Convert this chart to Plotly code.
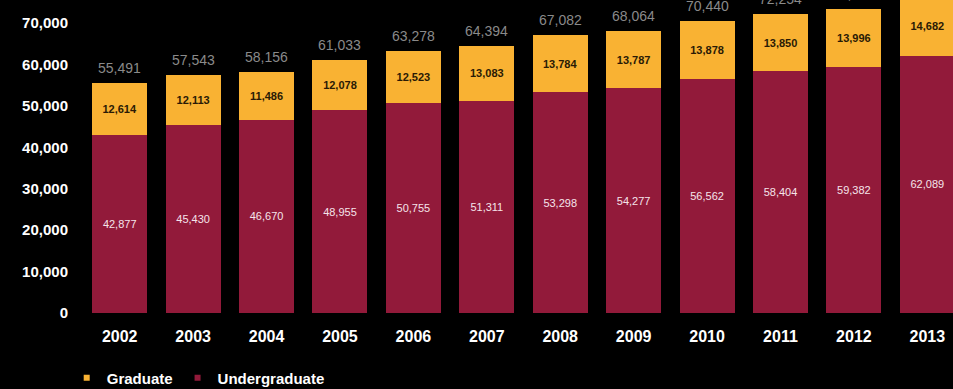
import plotly.graph_objects as go

years = ["2002", "2003", "2004", "2005", "2006", "2007", "2008", "2009", "2010", "2011", "2012", "2013"]
undergraduate = [42877, 45430, 46670, 48955, 50755, 51311, 53298, 54277, 56562, 58404, 59382, 62089]
graduate = [12614, 12113, 11486, 12078, 12523, 13083, 13784, 13787, 13878, 13850, 13996, 14682]
totals = [u + g for u, g in zip(undergraduate, graduate)]
y_ticks = [0, 10000, 20000, 30000, 40000, 50000, 60000, 70000]

GOLD = "#F9B233"
MAROON = "#921A3A"
FONT = "Liberation Sans, Arial, sans-serif"

fig = go.Figure()
fig.add_trace(go.Bar(
    x=years, y=undergraduate, name="Undergraduate", marker=dict(color=MAROON, line=dict(width=0)),
    texttemplate="%{y:,.0f}", textposition="inside", insidetextanchor="middle", textangle=0,
    textfont=dict(family=FONT, size=11, color="#f5e4ea"), showlegend=False,
))
fig.add_trace(go.Bar(
    x=years, y=graduate, name="Graduate", marker=dict(color=GOLD, line=dict(width=0)),
    texttemplate="<b>%{y:,.0f}</b>", textposition="inside", insidetextanchor="middle", textangle=0,
    textfont=dict(family=FONT, size=11, color="#2a1a05"), showlegend=False,
))
# legend entries
fig.add_trace(go.Scatter(x=[None], y=[None], mode="markers", name="Graduate",
                         marker=dict(symbol="square", size=6, color=GOLD)))
fig.add_trace(go.Scatter(x=[None], y=[None], mode="markers", name="Undergraduate",
                         marker=dict(symbol="square", size=6, color=MAROON)))

for i, t in enumerate(totals):
    fig.add_annotation(x=i, y=t, text=f"{t:,}", showarrow=False, yshift=15,
                       font=dict(family=FONT, size=14, color="#8a8a8a"))

fig.update_layout(
    width=953, height=389,
    margin=dict(l=83, r=0, t=0, b=76, autoexpand=False),
    paper_bgcolor="black", plot_bgcolor="black",
    barmode="stack", bargap=0.25,
    uniformtext=dict(minsize=8, mode="show"),
    font=dict(family=FONT, color="white"),
    legend=dict(orientation="h", xref="container", yref="paper", x=0.07, y=-0.208,
                xanchor="left", yanchor="middle", itemwidth=30, traceorder="normal",
                font=dict(family=FONT, size=15, color="white", weight="bold"),
                bgcolor="rgba(0,0,0,0)"),
    xaxis=dict(type="category", range=[-0.5, 11.35], showgrid=False, showline=False, zeroline=False,
               tickfont=dict(family=FONT, size=16, color="white", weight="bold"),
               ticklabelstandoff=12),
    yaxis=dict(range=[0, 75600], tickvals=y_ticks, tickformat=",", showgrid=False,
               showline=False, zeroline=False,
               tickfont=dict(family=FONT, size=15, color="white", weight="bold"),
               ticklabelstandoff=14),
)

fig.write_html("out.html")
